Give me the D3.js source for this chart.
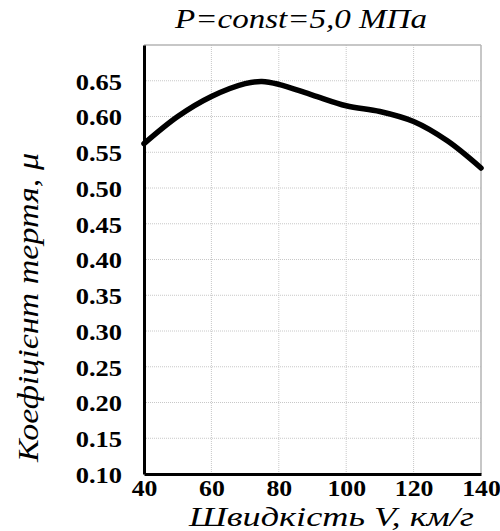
<!DOCTYPE html>
<html>
<head>
<meta charset="utf-8">
<script src="https://cdn.jsdelivr.net/npm/d3@7"></script>
<style>
  body { margin: 0; background: #fff; }
  svg { display: block; }
</style>
</head>
<body>
<div id="chart"></div>
<script>
// speed V, km/h
const speeds = [40, 50, 60, 70, 75, 80, 90, 100, 110, 120, 130, 140];
// friction coefficient mu
const friction = [0.562, 0.600, 0.628, 0.646, 0.649, 0.645, 0.630, 0.615, 0.607, 0.593, 0.566, 0.528];

const xTicks = [40, 60, 80, 100, 120, 140];
const yTicks = [0.10, 0.15, 0.20, 0.25, 0.30, 0.35, 0.40, 0.45, 0.50, 0.55, 0.60, 0.65];

const titleText = 'P=const=5,0 МПа';
const xLabel = 'Швидкість V, км/г';
const yLabel = 'Коефіцієнт тертя, μ';

const width = 500, height = 531;
const margin = { top: 45, right: 19, bottom: 57, left: 144 };
const serif = '"Liberation Serif"';

const svg = d3.select('#chart')
    .append('svg')
    .attr('width', width)
    .attr('height', height);

const x = d3.scaleLinear()
    .domain([40, 140])
    .range([margin.left, width - margin.right]);

const y = d3.scaleLinear()
    .domain([0.10, 0.70])
    .range([height - margin.bottom, margin.top]);

// grid
const grid = svg.append('g');
grid.selectAll('line.h')
    .data(yTicks.slice(1))
    .enter().append('line')
    .attr('x1', x(40)).attr('x2', x(140))
    .attr('y1', d => y(d)).attr('y2', d => y(d))
    .attr('stroke', '#c8c8c8')
    .attr('stroke-width', 1)
    .attr('stroke-dasharray', '1,1');
grid.selectAll('line.v')
    .data(xTicks.slice(1, -1))
    .enter().append('line')
    .attr('x1', d => x(d)).attr('x2', d => x(d))
    .attr('y1', y(0.70)).attr('y2', y(0.10))
    .attr('stroke', '#c8c8c8')
    .attr('stroke-width', 1)
    .attr('stroke-dasharray', '1,1');

// frame (top/right grey)
svg.append('line')
    .attr('x1', x(40)).attr('x2', x(140))
    .attr('y1', y(0.70)).attr('y2', y(0.70))
    .attr('stroke', '#b4b4b4').attr('stroke-width', 1.5);
svg.append('line')
    .attr('x1', x(140)).attr('x2', x(140))
    .attr('y1', y(0.70)).attr('y2', y(0.10))
    .attr('stroke', '#b4b4b4').attr('stroke-width', 1.5);

// stretch tick labels a little, like in the original picture
function widen(sel, k) {
    sel.each(function() {
        const w = this.getComputedTextLength();
        d3.select(this)
            .attr('textLength', w * k)
            .attr('lengthAdjust', 'spacingAndGlyphs');
    });
}

// axes
const xAxis = svg.append('g')
    .attr('transform', `translate(0,${y(0.10)})`)
    .call(d3.axisBottom(x).tickValues(xTicks).tickSize(0).tickPadding(5).tickFormat(d3.format('d')));
xAxis.select('.domain').attr('stroke', '#000').attr('stroke-width', 3);
xAxis.selectAll('text')
    .style('font-family', serif)
    .style('font-weight', 'bold')
    .style('font-size', '23px')
    .attr('dy', '0.75em')
    .attr('fill', '#000')
    .call(widen, 1.12);

const yAxis = svg.append('g')
    .attr('transform', `translate(${x(40)},0)`)
    .call(d3.axisLeft(y).tickValues(yTicks).tickSize(0).tickPadding(22).tickFormat(d3.format('.2f')));
yAxis.select('.domain').attr('stroke', '#000').attr('stroke-width', 3);
yAxis.selectAll('text')
    .style('font-family', serif)
    .style('font-weight', 'bold')
    .style('font-size', '23px')
    .attr('dy', '0.36em')
    .attr('fill', '#000')
    .call(widen, 1.15);

// curve
const line = d3.line()
    .x((d, i) => x(speeds[i]))
    .y(d => y(d))
    .curve(d3.curveCatmullRom.alpha(0.5));

svg.append('path')
    .datum(friction)
    .attr('d', line)
    .attr('fill', 'none')
    .attr('stroke', '#000')
    .attr('stroke-width', 5.5)
    .attr('stroke-linecap', 'round');

// titles
svg.append('text')
    .attr('x', 175)
    .attr('y', 28)
    .style('font-family', serif)
    .style('font-style', 'italic')
    .style('font-size', '27px')
    .attr('textLength', 252)
    .attr('lengthAdjust', 'spacingAndGlyphs')
    .text(titleText);

svg.append('text')
    .attr('x', 189)
    .attr('y', 526)
    .style('font-family', serif)
    .style('font-style', 'italic')
    .style('font-size', '27px')
    .attr('textLength', 285)
    .attr('lengthAdjust', 'spacingAndGlyphs')
    .text(xLabel);

svg.append('text')
    .attr('transform', 'translate(38,462) rotate(-90)')
    .style('font-family', serif)
    .style('font-style', 'italic')
    .style('font-size', '30px')
    .attr('textLength', 309)
    .attr('lengthAdjust', 'spacingAndGlyphs')
    .text(yLabel);
</script>
</body>
</html>
